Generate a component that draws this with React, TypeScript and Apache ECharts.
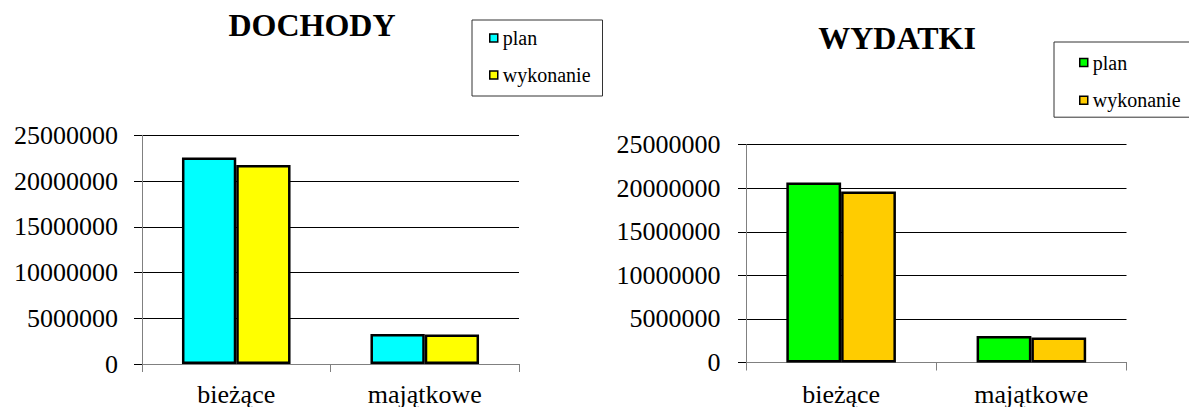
import React, { useEffect, useRef } from "react";
import * as echarts from "echarts";

const categories = ["bieżące", "majątkowe"];
const yTicks = [0, 5000000, 10000000, 15000000, 20000000, 25000000];
const dochodyPlan = [22570000, 3280000];
const dochodyWykonanie = [21750000, 3220000];
const wydatkiPlan = [20650000, 3050000];
const wydatkiWykonanie = [19630000, 2880000];
const seriesNames = ["plan", "wykonanie", "plan_2", "wykonanie_2"];
const colors = ["#00FFFF", "#FFFF00", "#00FF00", "#FFCC00"];

const FONT = "'Liberation Serif', 'Times New Roman', serif";

export default function App() {
  const ref = useRef<HTMLDivElement>(null);
  useEffect(() => {
    if (!ref.current) return;
    const chart = echarts.init(ref.current, null, { renderer: "svg" });
    const yAxisBase = (margin: number) => ({
      type: "value",
      min: yTicks[0],
      max: yTicks[yTicks.length - 1],
      interval: yTicks[1] - yTicks[0],
      axisLine: { show: true, lineStyle: { color: "#808080", width: 1 } },
      axisTick: { show: true, length: 8, lineStyle: { color: "#000", width: 1 } },
      axisLabel: {
        color: "#000",
        fontFamily: FONT,
        fontSize: 26,
        margin,
        formatter: (v: number) => String(v),
      },
      splitLine: { show: true, lineStyle: { color: "#000", width: 1 } },
    });
    const xAxisBase = (gridIndex: number, margin: number) => ({
      type: "category",
      gridIndex,
      data: categories,
      boundaryGap: true,
      axisLine: { show: true, lineStyle: { color: "#808080", width: 1 } },
      axisTick: { show: true, length: 8, alignWithLabel: false, lineStyle: { color: "#808080", width: 1 } },
      axisLabel: { color: "#000", fontFamily: FONT, fontSize: 26, margin, interval: 0 },
    });
    const barBase = {
      type: "bar",
      barGap: "0%",
      barCategoryGap: "42.4%",
      itemStyle: { borderColor: "#000", borderWidth: 2.5 },
      emphasis: { disabled: true },
    };
    const legendBase = {
      orient: "vertical",
      icon: "rect",
      itemWidth: 8,
      itemHeight: 8,
      selectedMode: false,
      borderColor: "#333",
      borderWidth: 1,
      textStyle: { color: "#000", fontFamily: FONT, fontSize: 20 },
      itemStyle: { borderColor: "#000", borderWidth: 1.5 },
      formatter: (n: string) => n.replace(/_2$/, ""),
    };
    chart.setOption({
      animation: false,
      textStyle: { fontFamily: FONT },
      title: [
        {
          text: "DOCHODY",
          left: 312,
          top: 9,
          textAlign: "center",
          padding: 0,
          textStyle: { fontFamily: FONT, fontWeight: "bold", fontSize: 32, color: "#000" },
        },
        {
          text: "WYDATKI",
          left: 897,
          top: 22,
          textAlign: "center",
          padding: 0,
          textStyle: { fontFamily: FONT, fontWeight: "bold", fontSize: 32, color: "#000" },
        },
      ],
      legend: [
        { ...legendBase, data: [seriesNames[0], seriesNames[1]], left: 472, top: 20, padding: [8, 12, 11, 17], itemGap: 17 },
        { ...legendBase, data: [seriesNames[2], seriesNames[3]], left: 1054, top: 42, padding: [10.5, 40, 7, 25], itemGap: 17.7 },
      ],
      grid: [
        { left: 142, width: 377, top: 135.3, bottom: 43, containLabel: false },
        { left: 746, width: 380.5, top: 144.7, bottom: 42, containLabel: false },
      ],
      xAxis: [xAxisBase(0, 17), xAxisBase(1, 18.5)],
      yAxis: [
        { ...yAxisBase(24), gridIndex: 0 },
        { ...yAxisBase(25.5), gridIndex: 1 },
      ],
      series: [
        { ...barBase, name: seriesNames[0], data: dochodyPlan, xAxisIndex: 0, yAxisIndex: 0, itemStyle: { ...barBase.itemStyle, color: colors[0] } },
        { ...barBase, name: seriesNames[1], data: dochodyWykonanie, xAxisIndex: 0, yAxisIndex: 0, itemStyle: { ...barBase.itemStyle, color: colors[1] } },
        { ...barBase, name: seriesNames[2], data: wydatkiPlan, xAxisIndex: 1, yAxisIndex: 1, itemStyle: { ...barBase.itemStyle, color: colors[2] } },
        { ...barBase, name: seriesNames[3], data: wydatkiWykonanie, xAxisIndex: 1, yAxisIndex: 1, itemStyle: { ...barBase.itemStyle, color: colors[3] } },
      ],
    });
    return () => chart.dispose();
  }, []);
  return (
    <div
      ref={ref}
      style={{ position: "fixed", left: 0, top: 0, width: 1189, height: 407, background: "#fff" }}
    />
  );
}
